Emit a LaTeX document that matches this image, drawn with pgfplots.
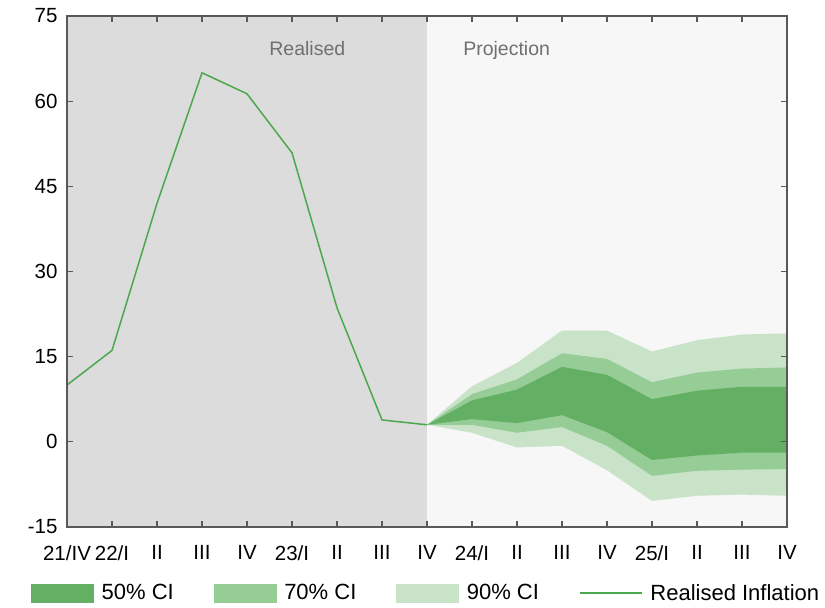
\documentclass[border=0pt]{standalone}
\usepackage{pgfplots}
\pgfplotsset{compat=1.18}
\usepackage{fontspec}
\setmainfont{Liberation Sans}
\definecolor{cifty}{RGB}{99,175,99}
\definecolor{cseventy}{RGB}{150,204,150}
\definecolor{cninety}{RGB}{201,227,201}
\definecolor{linegreen}{RGB}{76,168,76}
\definecolor{realbg}{RGB}{220,220,220}
\definecolor{projbg}{RGB}{247,247,247}
\definecolor{axisgray}{RGB}{89,89,89}
\definecolor{txtgray}{RGB}{112,112,112}
\begin{document}
\begin{tikzpicture}
\begin{axis}[
  name=ax,
  scale only axis,
  width=720pt, height=511pt,
  xmin=0, xmax=16, ymin=-15, ymax=75,
  xtick={0,...,16},
  xticklabels={21/IV,22/I,II,III,IV,23/I,II,III,IV,24/I,II,III,IV,25/I,II,III,IV},
  ytick={-15,0,15,30,45,60,75},
  /pgf/number format/assume math mode=true,
  tick label style={font=\fontsize{20.5}{24}\selectfont, black},
  xticklabel style={yshift=-15pt},
  yticklabel style={xshift=-6pt},
  tick align=inside,
  major tick length=6pt,
  tick style={axisgray, line width=1.2pt},
  axis line style={axisgray, line width=1.5pt},
  axis on top=true,
  clip=false,
  legend columns=4,
  legend style={at={(0.499,-0.129)}, anchor=center, draw=none, fill=none,
    font=\fontsize{22}{26}\selectfont,
    /tikz/every odd column/.append style={column sep=6pt},
    /tikz/every even column/.append style={column sep=38pt}},
]
% backgrounds
\addplot[fill=realbg, draw=none, forget plot] coordinates {(0,-15) (8,-15) (8,75) (0,75)} -- cycle;
\addplot[fill=projbg, draw=none, forget plot] coordinates {(8,-15) (16,-15) (16,75) (8,75)} -- cycle;
% 90% band
\addplot[fill=cninety, draw=none, forget plot] coordinates {
 (8,3) (9,9.8) (10,13.9) (11,19.6) (12,19.6) (13,15.9) (14,17.9) (15,18.9) (16,19.1)
 (16,-9.5) (15,-9.3) (14,-9.5) (13,-10.4) (12,-5.0) (11,-0.7) (10,-1.0) (9,1.6) (8,3)} -- cycle;
% 70% band
\addplot[fill=cseventy, draw=none, forget plot] coordinates {
 (8,3) (9,8.4) (10,11.0) (11,15.6) (12,14.6) (13,10.5) (14,12.2) (15,12.9) (16,13.1)
 (16,-4.8) (15,-4.9) (14,-5.1) (13,-6.0) (12,-0.7) (11,2.6) (10,1.6) (9,3.0) (8,3)} -- cycle;
% 50% band
\addplot[fill=cifty, draw=none, forget plot] coordinates {
 (8,3) (9,7.3) (10,9.2) (11,13.2) (12,11.8) (13,7.5) (14,9.0) (15,9.7) (16,9.7)
 (16,-1.9) (15,-1.9) (14,-2.4) (13,-3.2) (12,1.7) (11,4.7) (10,3.3) (9,4.0) (8,3)} -- cycle;
% realised
\addplot[linegreen, line width=1.5pt, forget plot] coordinates {
 (0,10.0) (1,16.1) (2,42.0) (3,65.0) (4,61.3) (5,50.9) (6,23.6) (7,3.85) (8,3.0)};
% legend
\addlegendimage{legend image code/.code={\fill[cifty] (0pt,-9pt) rectangle (62pt,9pt);}}
\addlegendentry{50\% CI}
\addlegendimage{legend image code/.code={\fill[cseventy] (0pt,-9pt) rectangle (62pt,9pt);}}
\addlegendentry{70\% CI}
\addlegendimage{legend image code/.code={\fill[cninety] (0pt,-9pt) rectangle (62pt,9pt);}}
\addlegendentry{90\% CI}
\addlegendimage{legend image code/.code={\draw[linegreen, line width=1.5pt] (0pt,0pt) -- (62pt,0pt);}}
\addlegendentry{Realised Inflation}
\node[txtgray, font=\fontsize{19.5}{23}\selectfont, anchor=base] at (axis cs:5.34,67.97) {Realised};
\node[txtgray, font=\fontsize{19.5}{23}\selectfont, anchor=base] at (axis cs:9.77,67.97) {Projection};
\end{axis}
\path (ax.south west) ++(-67pt,-81pt) coordinate (bl);
\path (ax.north east) ++(38pt,16pt) coordinate (tr);
\path (bl) (tr);
\end{tikzpicture}
\end{document}
